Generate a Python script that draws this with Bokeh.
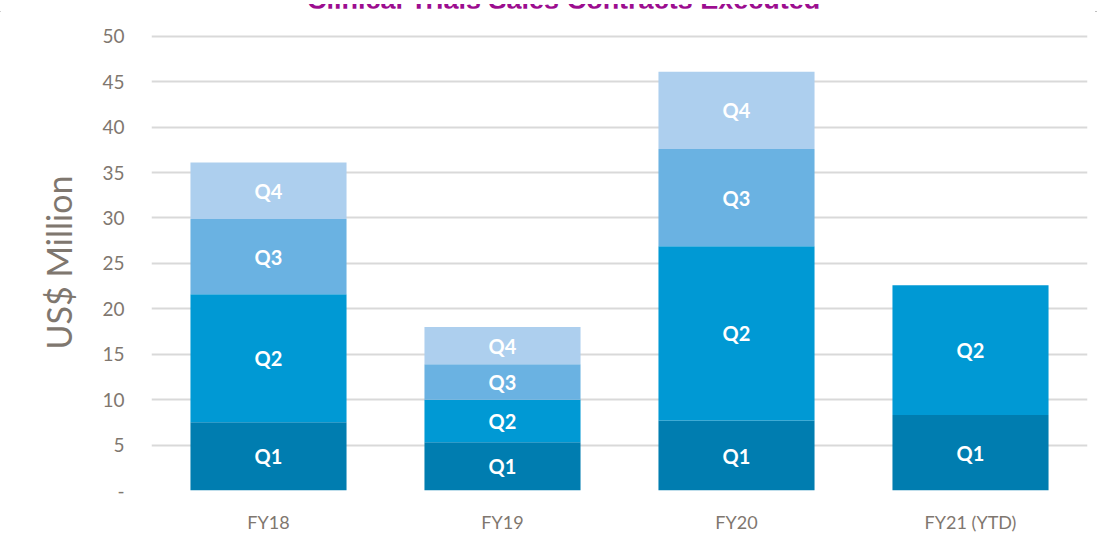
from bokeh.plotting import figure
from bokeh.models import FactorRange, Range1d, FixedTicker, ColumnDataSource, Div
from bokeh.layouts import column
from bokeh.core.properties import value
from bokeh.embed import file_html
from bokeh.resources import INLINE

# ---- data ----
title_text = "Clinical Trials Sales Contracts Executed"
years = ["FY18", "FY19", "FY20", "FY21 (YTD)"]
quarters = ["Q1", "Q2", "Q3", "Q4"]
q1 = [7.5, 5.3, 7.7, 8.3]
q2 = [14.1, 4.7, 19.2, 14.3]
q3 = [8.3, 3.9, 10.7, 0.0]
q4 = [6.2, 4.1, 8.5, 0.0]
y_ticks = [0, 5, 10, 15, 20, 25, 30, 35, 40, 45, 50]
y_tick_labels = ["-", "5", "10", "15", "20", "25", "30", "35", "40", "45", "50"]
y_label = "US$ Million"

colors = ["#007DB0", "#0099D4", "#6AB2E2", "#ADCFEE"]
grey = "#7F776F"

src = ColumnDataSource(dict(years=years, Q1=q1, Q2=q2, Q3=q3, Q4=q4))

p = figure(x_range=FactorRange(*years, range_padding=0), y_range=Range1d(0, 50.2),
           width=1095, height=536, output_backend="svg", toolbar_location=None,
           min_border_left=151, min_border_right=8, min_border_top=26, min_border_bottom=54)
p.vbar_stack(quarters, x="years", width=0.667, color=colors, line_color=None, source=src)

# segment labels
lx, ly, lt = [], [], []
series = [q1, q2, q3, q4]
for i, yr in enumerate(years):
    base = 0.0
    for qn, s in zip(quarters, series):
        v = s[i]
        if v > 0:
            lx.append(yr)
            ly.append(base + v / 2)
            lt.append(qn)
        base += v
p.text(x=lx, y=ly, text=lt, text_color="white", text_font=value("Lato"),
       text_font_style="bold", text_font_size="20px", text_align="center",
       text_baseline="middle")

p.outline_line_color = None
p.xgrid.grid_line_color = None
p.ygrid.grid_line_color = "#D9D9D9"
p.ygrid.grid_line_width = 2
p.yaxis.ticker = FixedTicker(ticks=y_ticks)
p.yaxis.major_label_overrides = {t: l for t, l in zip(y_ticks, y_tick_labels)}
for ax in (p.xaxis, p.yaxis):
    ax.axis_line_color = None
    ax.major_tick_line_color = None
    ax.minor_tick_line_color = None
    ax.major_tick_out = 0
    ax.major_label_text_color = grey
    ax.major_label_text_font = "Lato"
p.yaxis.major_label_text_font_size = "19px"
p.xaxis.major_label_text_font_size = "18px"
p.yaxis.major_label_standoff = 27
p.xaxis.major_label_standoff = 20
p.yaxis.axis_label = y_label
p.yaxis.axis_label_text_font = "Lato"
p.yaxis.axis_label_text_font_style = "normal"
p.yaxis.axis_label_text_font_size = "34px"
p.yaxis.axis_label_text_color = grey
p.yaxis.axis_label_standoff = 20

html = ('<div style="position:relative;width:1097px;height:8px;overflow:hidden;">'
        '<div style="position:absolute;left:0;top:7px;width:1097px;height:1px;background:#BFBFBF;"></div>'
        '<span style="position:absolute;left:307px;top:-17px;white-space:nowrap;line-height:1;'
        'font-family:\'Liberation Sans\',Arial,sans-serif;font-weight:bold;font-size:27px;color:#9C0D8F;">'
        + title_text + '</span></div>')
div = Div(text=html, width=1097, height=8, margin=(0, 0, 0, 0))

layout = column(div, p, spacing=0)
open("out.html", "w").write(file_html(layout, INLINE))
